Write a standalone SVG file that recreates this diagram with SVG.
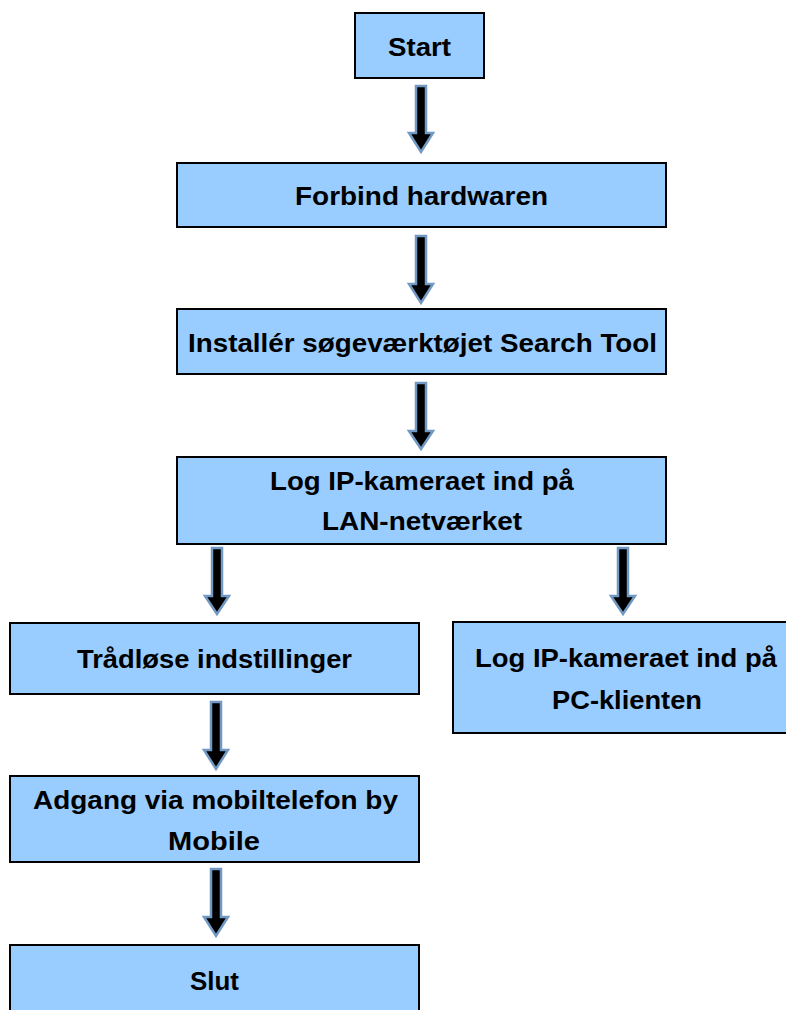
<svg xmlns="http://www.w3.org/2000/svg" width="786" height="1010" viewBox="0 0 786 1010">
<style>
.box{fill:#99ccff;stroke:#000;stroke-width:2}
.t{font-family:"Liberation Sans",Arial,sans-serif;font-weight:bold;font-size:26px;fill:#000;text-anchor:middle}
.arr{fill:#000;stroke:#7299c3;stroke-width:2.5;stroke-linejoin:miter}
</style>
<rect width="786" height="1010" fill="#fff"/>
<g id="connectors">
<polygon class="arr" points="416,86 426,86 426,133 433,133 421,152 409,133 416,133"/>
<polygon class="arr" points="416,236 426,236 426,284 433,284 421,303 409,284 416,284"/>
<polygon class="arr" points="416,383 426,383 426,431 433,431 421,449 409,431 416,431"/>
<polygon class="arr" points="212,548 222,548 222,596 229,596 217,614 205,596 212,596"/>
<polygon class="arr" points="618,548 628,548 628,596 635,596 623,614 611,596 618,596"/>
<polygon class="arr" points="211,702 221,702 221,750 228,750 216,769 204,750 211,750"/>
<polygon class="arr" points="211,869 221,869 221,917 228,917 216,936 204,917 211,917"/>
</g>
<g id="start"><rect class="box" x="355" y="13" width="129" height="65"/><text class="t" x="419.5" y="56" textLength="63" lengthAdjust="spacingAndGlyphs">Start</text></g>
<g id="forbind"><rect class="box" x="177" y="163" width="489" height="64"/><text class="t" x="421.5" y="205" textLength="253" lengthAdjust="spacingAndGlyphs">Forbind hardwaren</text></g>
<g id="installer"><rect class="box" x="177" y="309" width="489" height="65"/><text class="t" x="422.5" y="352" textLength="469" lengthAdjust="spacingAndGlyphs">Installér søgeværktøjet Search Tool</text></g>
<g id="loglan"><rect class="box" x="177" y="457" width="489" height="87"/><text class="t" x="422" y="490" textLength="304" lengthAdjust="spacingAndGlyphs">Log IP-kameraet ind på</text><text class="t" x="422" y="530" textLength="200" lengthAdjust="spacingAndGlyphs">LAN-netværket</text></g>
<g id="traadlose"><rect class="box" x="10" y="623" width="409" height="71"/><text class="t" x="214.5" y="668" textLength="275" lengthAdjust="spacingAndGlyphs">Trådløse indstillinger</text></g>
<g id="logpc"><rect class="box" x="453" y="622" width="350" height="111"/><text class="t" x="626" y="667" textLength="302" lengthAdjust="spacingAndGlyphs">Log IP-kameraet ind på</text><text class="t" x="627" y="709" textLength="150" lengthAdjust="spacingAndGlyphs">PC-klienten</text></g>
<g id="adgang"><rect class="box" x="10" y="776" width="409" height="86"/><text class="t" x="215.5" y="809" textLength="365" lengthAdjust="spacingAndGlyphs">Adgang via mobiltelefon by</text><text class="t" x="214" y="850" textLength="92" lengthAdjust="spacingAndGlyphs">Mobile</text></g>
<g id="slut"><rect class="box" x="10" y="945" width="409" height="70"/><text class="t" x="214.5" y="990" textLength="49" lengthAdjust="spacingAndGlyphs">Slut</text></g>
</svg>
